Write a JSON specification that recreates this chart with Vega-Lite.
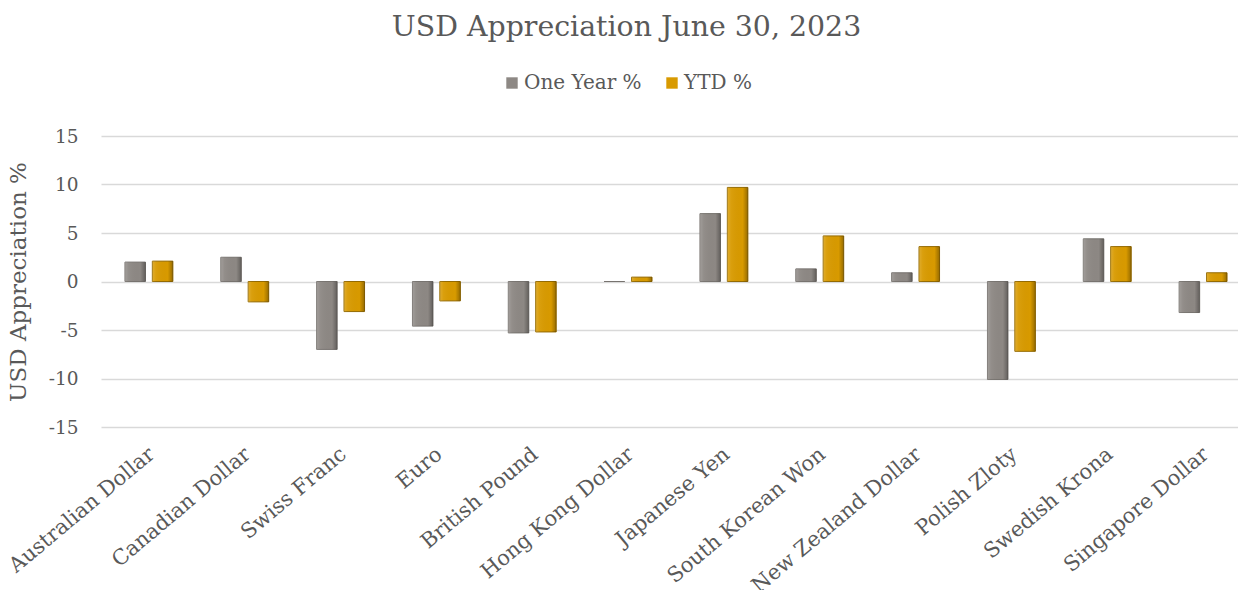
{
  "$schema": "https://vega.github.io/schema/vega-lite/v6.json",
  "autosize": {"type": "none"},
  "width": 1137,
  "height": 291,
  "padding": {"left": 101, "top": 136, "right": 0, "bottom": 163},
  "background": "white",
  "config": {"view": {"stroke": null}},
  "title": {
    "text": "USD Appreciation June 30, 2023",
    "font": "DejaVu Serif",
    "fontSize": 28.4,
    "fontWeight": "normal",
    "color": "#595959",
    "anchor": "middle",
    "frame": "group",
    "dx": -43,
    "offset": 31
  },
  "data": {
    "values": [
      {"currency": "Australian Dollar", "series": "One Year %", "value": 2.0},
      {"currency": "Australian Dollar", "series": "YTD %", "value": 2.1},
      {"currency": "Canadian Dollar", "series": "One Year %", "value": 2.5},
      {"currency": "Canadian Dollar", "series": "YTD %", "value": -2.1},
      {"currency": "Swiss Franc", "series": "One Year %", "value": -7.0},
      {"currency": "Swiss Franc", "series": "YTD %", "value": -3.1},
      {"currency": "Euro", "series": "One Year %", "value": -4.6},
      {"currency": "Euro", "series": "YTD %", "value": -2.0},
      {"currency": "British Pound", "series": "One Year %", "value": -5.3},
      {"currency": "British Pound", "series": "YTD %", "value": -5.2},
      {"currency": "Hong Kong Dollar", "series": "One Year %", "value": 0.0},
      {"currency": "Hong Kong Dollar", "series": "YTD %", "value": 0.45},
      {"currency": "Japanese Yen", "series": "One Year %", "value": 7.0},
      {"currency": "Japanese Yen", "series": "YTD %", "value": 9.7},
      {"currency": "South Korean Won", "series": "One Year %", "value": 1.3},
      {"currency": "South Korean Won", "series": "YTD %", "value": 4.7},
      {"currency": "New Zealand Dollar", "series": "One Year %", "value": 0.9},
      {"currency": "New Zealand Dollar", "series": "YTD %", "value": 3.6},
      {"currency": "Polish Zloty", "series": "One Year %", "value": -10.1},
      {"currency": "Polish Zloty", "series": "YTD %", "value": -7.2},
      {"currency": "Swedish Krona", "series": "One Year %", "value": 4.4},
      {"currency": "Swedish Krona", "series": "YTD %", "value": 3.6},
      {"currency": "Singapore Dollar", "series": "One Year %", "value": -3.2},
      {"currency": "Singapore Dollar", "series": "YTD %", "value": 0.9}
    ]
  },
  "encoding": {
    "x": {
      "field": "currency",
      "type": "nominal",
      "sort": null,
      "scale": {"paddingInner": 0.5, "paddingOuter": 0.25, "range": [0, 1150]},
      "axis": {
        "title": null,
        "labelAngle": -40,
        "labelFont": "DejaVu Serif",
        "labelFontSize": 21,
        "labelColor": "#595959",
        "labelPadding": 16,
        "labelOffset": -4,
        "ticks": false,
        "domain": false,
        "grid": false,
        "labelOverlap": false,
        "labelLimit": 300
      }
    },
    "xOffset": {
      "field": "series",
      "type": "nominal",
      "scale": {"paddingInner": 0.25}
    },
    "y": {
      "field": "value",
      "type": "quantitative",
      "scale": {"domain": [-15, 15], "nice": false},
      "axis": {
        "title": "USD Appreciation %",
        "titleFont": "DejaVu Serif",
        "titleFontSize": 23,
        "titleFontWeight": "normal",
        "titleColor": "#595959",
        "titlePadding": 18,
        "values": [-15, -10, -5, 0, 5, 10, 15],
        "labelExpr": "replace(datum.label, '\u2212', '-')",
        "labelFont": "DejaVu Serif",
        "labelFontSize": 18.5,
        "labelColor": "#595959",
        "labelPadding": 23,
        "ticks": false,
        "domain": false,
        "grid": true,
        "gridColor": "#d9d9d9",
        "gridWidth": 1.5
      }
    }
  },
  "layer": [
    {
      "mark": {"type": "bar", "strokeWidth": 1},
      "encoding": {
        "color": {
          "field": "series",
          "type": "nominal",
          "scale": {"domain": ["One Year %", "YTD %"], "range": ["#8d8884", "#d89a00"]},
          "legend": {
            "title": null,
            "orient": "none",
            "direction": "horizontal",
            "legendX": 401,
            "legendY": -63,
            "symbolType": "square",
            "symbolSize": 130,
            "symbolStrokeWidth": 0,
            "labelFont": "DejaVu Serif",
            "labelFontSize": 20,
            "labelColor": "#595959",
            "labelOffset": 2,
            "columnPadding": 20
          }
        },
        "stroke": {
          "field": "series",
          "type": "nominal",
          "scale": {"domain": ["One Year %", "YTD %"], "range": ["#77736f", "#946a00"]},
          "legend": null
        }
      }
    },
    {
      "mark": {
        "type": "bar",
        "strokeWidth": 0,
        "color": {
          "gradient": "linear",
          "x1": 0, "y1": 0, "x2": 1, "y2": 0,
          "stops": [
            {"offset": 0, "color": "rgba(255,255,255,0.18)"},
            {"offset": 0.18, "color": "rgba(255,255,255,0.05)"},
            {"offset": 0.75, "color": "rgba(0,0,0,0)"},
            {"offset": 1, "color": "rgba(0,0,0,0.3)"}
          ]
        }
      }
    }
  ]
}
